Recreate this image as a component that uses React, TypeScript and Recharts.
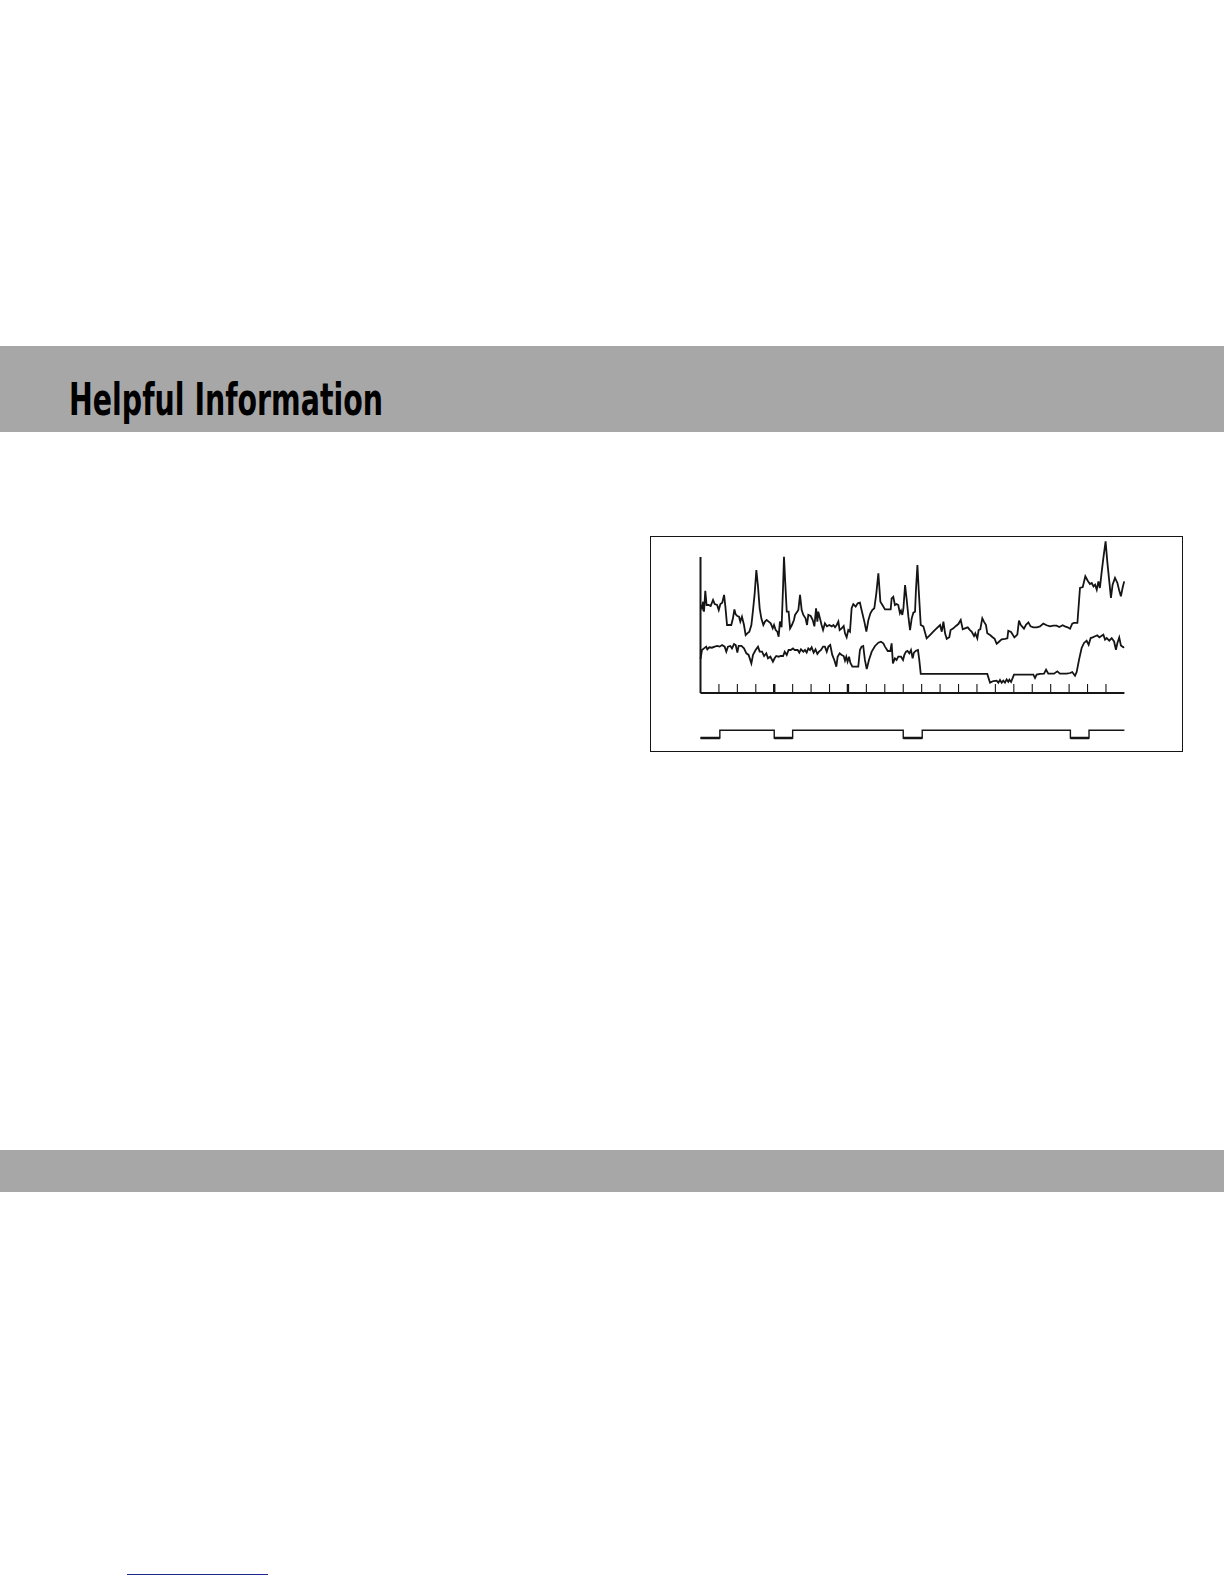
import React from 'react';
import { LineChart, Line, XAxis, YAxis, ReferenceLine } from 'recharts';

// upper trace (time in tick units, level in % of axis height)
const upperT = [
  0.01, 0.08, 0.14, 0.19, 0.26, 0.33, 0.44, 0.55, 0.68, 0.77, 0.9, 0.99, 1.08, 1.18, 1.28, 1.35, 1.44, 1.58, 1.67, 1.76,
  1.84, 1.91, 2.0, 2.09, 2.16, 2.25, 2.36, 2.45, 2.54, 2.65, 2.76, 2.85, 2.94, 3.03, 3.12, 3.21, 3.3, 3.41, 3.5, 3.59,
  3.7, 3.81, 3.92, 3.99, 4.08, 4.17, 4.24, 4.31, 4.4, 4.48, 4.53, 4.6, 4.68, 4.78, 4.86, 4.96, 5.07, 5.13, 5.31, 5.4,
  5.49, 5.58, 5.7, 5.78, 5.85, 5.98, 6.09, 6.18, 6.27, 6.34, 6.39, 6.48, 6.57, 6.65, 6.75, 6.86, 6.99, 7.12, 7.21, 7.3,
  7.39, 7.48, 7.55, 7.66, 7.77, 7.84, 7.93, 8.02, 8.11, 8.2, 8.29, 8.42, 8.53, 8.65, 8.74, 8.89, 9.0, 9.11, 9.22, 9.32,
  9.43, 9.54, 9.65, 9.76, 9.87, 10.01, 10.19, 10.32, 10.37, 10.46, 10.55, 10.64, 10.73, 10.82, 10.88, 10.95, 11.01, 11.1, 11.19, 11.28,
  11.37, 11.46, 11.55, 11.64, 11.69, 11.77, 11.84, 11.95, 12.09, 12.27, 12.45, 12.63, 12.81, 13.0, 13.09, 13.18, 13.27, 13.36, 13.5, 13.57,
  13.72, 13.86, 13.99, 14.12, 14.23, 14.35, 14.5, 14.62, 14.71, 14.84, 14.91, 15.02, 15.09, 15.18, 15.29, 15.38, 15.49, 15.56, 15.71, 15.85,
  15.96, 16.07, 16.18, 16.34, 16.52, 16.65, 16.7, 16.85, 17.03, 17.19, 17.28, 17.37, 17.55, 17.66, 17.79, 17.91, 18.06, 18.24, 18.42, 18.6,
  18.78, 18.96, 19.14, 19.32, 19.47, 19.65, 19.77, 19.92, 20.05, 20.17, 20.26, 20.45, 20.59, 20.74, 20.88, 21.01, 21.13, 21.23, 21.32, 21.41,
  21.5, 21.59, 21.67, 21.77, 21.86, 21.98, 22.07, 22.18, 22.27, 22.36, 22.49, 22.62, 22.72, 22.81, 22.9, 22.99,
];
const upperV = [
  64.7, 62.3, 67.1, 59.8, 75.2, 64.7, 64.7, 64.0, 68.4, 65.4, 64.7, 61.0, 65.4, 66.4, 72.1, 63.5, 50.0, 50.0, 50.0, 54.9,
  61.5, 57.8, 56.6, 56.1, 52.5, 56.1, 50.0, 42.6, 43.9, 45.1, 50.0, 61.0, 73.3, 90.4, 78.2, 62.3, 54.9, 50.0, 52.5, 53.7,
  52.5, 51.2, 47.5, 50.0, 46.3, 45.1, 41.4, 52.5, 48.3, 78.2, 100.2, 80.6, 59.8, 59.8, 47.5, 50.0, 53.7, 57.4, 61.0, 72.1,
  61.0, 57.4, 54.9, 50.0, 57.4, 56.6, 53.7, 49.0, 62.3, 52.5, 59.8, 54.9, 50.0, 46.3, 51.2, 49.0, 50.0, 49.0, 50.0, 48.3,
  50.0, 52.5, 46.3, 47.5, 49.3, 43.9, 41.0, 46.3, 45.1, 62.3, 65.4, 63.5, 65.9, 66.4, 61.0, 52.5, 45.1, 53.7, 58.6, 61.0,
  62.3, 73.3, 88.0, 67.1, 64.7, 61.5, 61.5, 61.5, 69.6, 70.8, 64.7, 65.4, 64.7, 58.6, 60.5, 57.4, 62.3, 79.4, 68.4, 56.1,
  46.3, 54.9, 59.1, 59.8, 75.7, 94.1, 75.7, 50.0, 49.0, 40.2, 42.6, 45.1, 47.5, 50.0, 45.1, 52.5, 43.9, 39.8, 41.0, 46.3,
  47.5, 49.3, 50.7, 53.7, 46.8, 47.5, 48.3, 46.3, 45.1, 41.9, 43.9, 40.2, 46.3, 46.8, 54.9, 52.5, 50.0, 43.9, 42.6, 41.0,
  39.8, 36.2, 37.5, 39.5, 39.8, 40.2, 45.8, 44.9, 40.9, 42.9, 53.2, 50.2, 47.3, 50.2, 51.9, 49.0, 48.3, 48.3, 49.0, 51.0,
  49.8, 49.0, 49.5, 49.5, 48.5, 49.8, 49.0, 48.3, 47.3, 51.0, 51.5, 51.5, 77.2, 77.9, 85.8, 82.6, 80.1, 80.9, 78.4, 79.7,
  76.0, 82.1, 77.2, 89.5, 99.3, 111.5, 96.8, 82.1, 69.9, 79.7, 84.6, 80.9, 75.3, 71.1, 77.2, 82.1,
];

// lower trace
const lowerT = [
  0.0, 0.08, 0.19, 0.31, 0.37, 0.48, 0.62, 0.77, 0.91, 1.04, 1.17, 1.31, 1.4, 1.49, 1.62, 1.71, 1.82, 1.91, 2.0, 2.07,
  2.22, 2.36, 2.49, 2.61, 2.76, 2.85, 2.99, 3.12, 3.21, 3.34, 3.45, 3.57, 3.66, 3.79, 3.93, 4.02, 4.11, 4.24, 4.35, 4.48,
  4.57, 4.68, 4.78, 4.89, 5.02, 5.11, 5.27, 5.36, 5.45, 5.58, 5.67, 5.76, 5.85, 5.94, 6.03, 6.14, 6.24, 6.34, 6.43, 6.54,
  6.65, 6.75, 6.85, 6.94, 7.04, 7.15, 7.26, 7.37, 7.44, 7.55, 7.66, 7.77, 7.84, 7.91, 7.98, 8.06, 8.13, 8.24, 8.38, 8.56,
  8.65, 8.74, 8.83, 8.92, 9.02, 9.14, 9.29, 9.47, 9.65, 9.79, 9.92, 10.01, 10.16, 10.3, 10.37, 10.44, 10.55, 10.64, 10.73, 10.88,
  10.99, 11.06, 11.15, 11.23, 11.33, 11.42, 11.51, 11.58, 11.69, 11.8, 11.87, 11.95, 15.56, 15.71, 15.89, 16.07, 16.16, 16.25, 16.34, 16.43,
  16.52, 16.61, 16.7, 16.76, 16.85, 17.01, 18.06, 18.15, 18.24, 18.42, 18.64, 18.75, 18.87, 19.18, 19.36, 19.5, 19.87, 20.05, 20.17, 20.32,
  20.41, 20.54, 20.68, 20.81, 20.95, 21.06, 21.17, 21.28, 21.41, 21.53, 21.64, 21.73, 21.86, 21.95, 22.04, 22.18, 22.31, 22.44, 22.54, 22.62,
  22.72, 22.81, 22.94, 22.99,
];
const lowerV = [
  25.0, 31.6, 32.8, 34.1, 32.1, 33.6, 33.3, 34.1, 34.6, 34.1, 35.3, 34.1, 30.4, 34.1, 34.6, 32.8, 36.0, 35.3, 29.7, 34.6,
  34.6, 32.8, 29.2, 28.0, 21.8, 28.0, 31.6, 34.1, 30.4, 30.4, 27.2, 29.2, 25.5, 26.7, 23.0, 25.5, 27.2, 26.7, 27.2, 27.2,
  30.4, 28.0, 31.6, 31.6, 32.8, 31.6, 31.6, 29.7, 32.1, 30.4, 31.6, 29.7, 32.8, 31.6, 33.6, 29.7, 32.1, 28.7, 30.4, 31.6,
  34.1, 34.1, 30.4, 34.1, 35.3, 28.0, 24.3, 19.4, 26.7, 29.2, 28.0, 27.2, 23.8, 26.7, 23.0, 26.7, 22.3, 19.4, 19.4, 19.4,
  31.6, 34.1, 34.6, 24.3, 17.6, 24.3, 30.4, 34.6, 37.0, 37.7, 36.5, 34.1, 30.9, 30.9, 36.5, 21.8, 25.5, 24.3, 26.7, 26.7,
  24.3, 28.0, 30.4, 30.9, 29.2, 31.6, 25.5, 29.7, 31.1, 31.6, 24.3, 14.0, 14.0, 7.6, 8.8, 9.1, 7.6, 9.6, 7.6, 9.1,
  7.6, 10.0, 8.3, 9.8, 8.1, 13.5, 13.5, 11.0, 13.5, 14.0, 14.2, 17.2, 14.2, 14.2, 15.9, 14.2, 14.2, 14.7, 15.4, 12.7,
  15.4, 24.5, 33.1, 36.8, 38.5, 35.5, 40.4, 40.9, 41.7, 42.4, 40.9, 41.7, 42.9, 39.2, 40.4, 38.5, 40.4, 37.9, 31.8, 36.8,
  40.9, 35.0, 33.6, 33.8,
];

// on/off signal below the axis
const signalT = [0, 1.05, 4, 5, 11, 12.03, 20.07, 21.08, 23];
const signalLevel = [0, 1, 0, 1, 0, 1, 0, 1, 1];

const xTicks = [1, 2, 3, 4, 5, 6, 7, 8, 9, 10, 11, 12, 13, 14, 15, 16, 17, 18, 19, 20, 21, 22];
const boldTicks = [4, 8];
const tickLen = 6.6;

const upperData = upperT.map((t, i) => ({ t, v: upperV[i] }));
const lowerData = lowerT.map((t, i) => ({ t, v: lowerV[i] }));
const signalData = signalT.map((t, i) => ({ t, v: signalLevel[i] }));
const lowData: { t: number; v: number | null }[] = [];
signalLevel.forEach((lv, i) => {
  if (lv === 0 && i < signalT.length - 1) {
    lowData.push({ t: signalT[i], v: 0 }, { t: signalT[i + 1], v: 0 }, { t: signalT[i + 1], v: null });
  }
});

const INK = '#151515';
const GRAY = '#a8a7a8';

const App: React.FC = () => {
  return (
    <div style={{ position: 'absolute', left: 0, top: 0, width: 1224, height: 1584, background: '#fff', overflow: 'hidden' }}>
      <div style={{ position: 'absolute', left: 0, top: 346, width: 1224, height: 86, background: GRAY }} />
      <svg style={{ position: 'absolute', left: 0, top: 346 }} width={1224} height={86}>
        <text
          x={69}
          y={69}
          textLength={314}
          lengthAdjust="spacingAndGlyphs"
          fontFamily="'Liberation Sans Narrow', 'DejaVu Sans Condensed', 'Liberation Sans', sans-serif"
          fontWeight="bold"
          fontSize={44}
          fill="#000"
        >
          Helpful Information
        </text>
      </svg>

      <div
        style={{
          position: 'absolute', left: 650, top: 536, width: 533, height: 216,
          boxSizing: 'border-box', border: `1.7px solid ${INK}`,
        }}
      />
      <div style={{ position: 'absolute', left: 650, top: 536 }}>
        <LineChart width={533} height={216} margin={{ top: 0.6, right: 58.6, bottom: 59, left: 50.5 }}>
          <XAxis
            type="number"
            dataKey="t"
            domain={[0, 23]}
            ticks={xTicks}
            tick={false}
            tickLine={false}
            mirror
            axisLine={{ stroke: INK, strokeWidth: 2 }}
            allowDuplicatedCategory={false}
          />
          <YAxis type="number" dataKey="v" domain={[0, 115]} hide />
          <ReferenceLine
            segment={[{ x: 0, y: 0 }, { x: 0, y: 100 }]}
            stroke={INK}
            strokeWidth={2}
            ifOverflow="visible"
          />
          {xTicks.map((k) => (
            <ReferenceLine
              key={k}
              segment={[{ x: k, y: 0 }, { x: k, y: tickLen }]}
              stroke={INK}
              strokeWidth={boldTicks.includes(k) ? 2.4 : 1.1}
              ifOverflow="visible"
            />
          ))}
          <Line data={upperData} dataKey="v" type="linear" stroke={INK} strokeWidth={1.8} dot={false} isAnimationActive={false} />
          <Line data={lowerData} dataKey="v" type="linear" stroke={INK} strokeWidth={1.8} dot={false} isAnimationActive={false} />
        </LineChart>
      </div>

      <div style={{ position: 'absolute', left: 650, top: 722 }}>
        <LineChart width={533} height={30} margin={{ top: 8.3, right: 58.6, bottom: 14, left: 50.5 }}>
          <XAxis type="number" dataKey="t" domain={[0, 23]} hide />
          <YAxis type="number" domain={[0, 1]} hide />
          <Line data={signalData} dataKey="v" type="stepAfter" stroke={INK} strokeWidth={1.4} dot={false} isAnimationActive={false} />
          <Line data={lowData} dataKey="v" type="linear" stroke={INK} strokeWidth={2.3} dot={false} isAnimationActive={false} connectNulls={false} />
        </LineChart>
      </div>

      <div style={{ position: 'absolute', left: 0, top: 1150, width: 1224, height: 42, background: GRAY }} />
      <div style={{ position: 'absolute', left: 127, top: 1574, width: 141, height: 1.4, background: '#1c2a8c' }} />
    </div>
  );
};

export default App;
